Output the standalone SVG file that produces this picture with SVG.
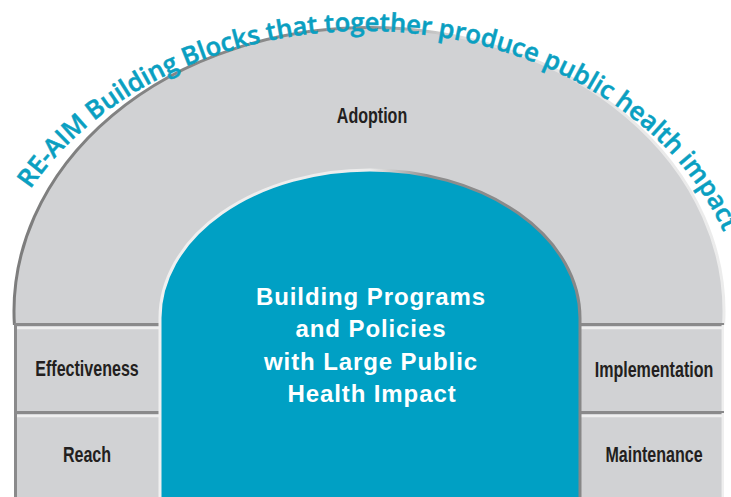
<svg xmlns="http://www.w3.org/2000/svg" width="731" height="497" viewBox="0 0 731 497">
<defs>
<linearGradient id="outerEdge" x1="14" y1="0" x2="724" y2="0" gradientUnits="userSpaceOnUse">
<stop offset="0" stop-color="#7d7d7d"/><stop offset="0.5" stop-color="#8f8f8f"/><stop offset="0.64" stop-color="#e2e2e2"/><stop offset="1" stop-color="#ececec"/>
</linearGradient>
<linearGradient id="innerEdge" x1="160" y1="0" x2="580" y2="0" gradientUnits="userSpaceOnUse">
<stop offset="0" stop-color="#f0f0f0"/><stop offset="0.5" stop-color="#ececec"/><stop offset="0.64" stop-color="#8e8e8e"/><stop offset="1" stop-color="#878787"/>
</linearGradient>
<path id="titlePath" d="M -15 332 A 380 301 0 0 1 745 332"/>
</defs>
<style>
.block{fill:#d1d2d4}
.dark{stroke:#8a8a8b;stroke-width:3;fill:none}
.light{stroke:#efefef;stroke-width:2.5;fill:none}
.lbl{font-family:"Liberation Sans",Arial,sans-serif;font-weight:bold;font-size:22px;fill:#231f20;text-anchor:middle}
.core{font-family:"Liberation Sans",Arial,sans-serif;font-weight:bold;font-size:24px;fill:#ffffff;text-anchor:middle;letter-spacing:0.9px}
.title{font-family:"Open Sans","Liberation Sans",sans-serif;font-weight:600;font-size:25.5px;fill:#0a9fc1;stroke:#0a9fc1;stroke-width:0.5}
</style>
<rect width="731" height="497" fill="#ffffff"/>
<g id="adoption">
<path class="block" d="M14.4 325 A355 284 0 1 1 723.6 325 Z"/>
<path d="M14.4 325 A355 284 0 1 1 723.6 325" fill="none" stroke="url(#outerEdge)" stroke-width="3"/>
<text class="lbl" transform="translate(372 123) scale(0.73 1)">Adoption</text>
</g>
<g id="effectiveness">
<rect class="block" x="14" y="325" width="146" height="88"/>
<line class="dark" x1="14" y1="324.5" x2="160" y2="324.5"/>
<line class="light" x1="17" y1="328" x2="160" y2="328"/>
<line class="dark" x1="15.5" y1="325" x2="15.5" y2="413"/>
<text class="lbl" transform="translate(87 376) scale(0.73 1)">Effectiveness</text>
</g>
<g id="reach">
<rect class="block" x="14" y="413" width="146" height="84"/>
<line class="dark" x1="14" y1="412.5" x2="160" y2="412.5"/>
<line class="light" x1="17" y1="416" x2="160" y2="416"/>
<line class="dark" x1="15.5" y1="413" x2="15.5" y2="497"/>
<text class="lbl" transform="translate(87 462) scale(0.73 1)">Reach</text>
</g>
<g id="implementation">
<rect class="block" x="580" y="325" width="144" height="88"/>
<line class="dark" x1="580" y1="324.5" x2="724" y2="324.5"/>
<line class="light" x1="580" y1="328" x2="722" y2="328"/>
<line class="light" x1="722.8" y1="325" x2="722.8" y2="413"/>
<text class="lbl" transform="translate(654 377) scale(0.73 1)">Implementation</text>
</g>
<g id="maintenance">
<rect class="block" x="580" y="413" width="144" height="84"/>
<line class="dark" x1="580" y1="412.5" x2="724" y2="412.5"/>
<line class="light" x1="580" y1="416" x2="722" y2="416"/>
<line class="light" x1="722.8" y1="413" x2="722.8" y2="497"/>
<text class="lbl" transform="translate(654 462) scale(0.73 1)">Maintenance</text>
</g>
<g id="core">
<path d="M160 497 L160 318 A210 148 0 0 1 580 318 L580 497" fill="#00a0c4" stroke="url(#innerEdge)" stroke-width="3"/>
<text class="core" x="371" y="305">Building Programs</text>
<text class="core" x="371" y="337">and Policies</text>
<text class="core" x="371" y="370">with Large Public</text>
<text class="core" x="372" y="402">Health Impact</text>
</g>
<g id="title">
<text class="title"><textPath href="#titlePath" startOffset="152" textLength="818" lengthAdjust="spacing">RE-AIM Building Blocks that together produce public health impact</textPath></text>
</g>
<g id="connectors"/>
</svg>
